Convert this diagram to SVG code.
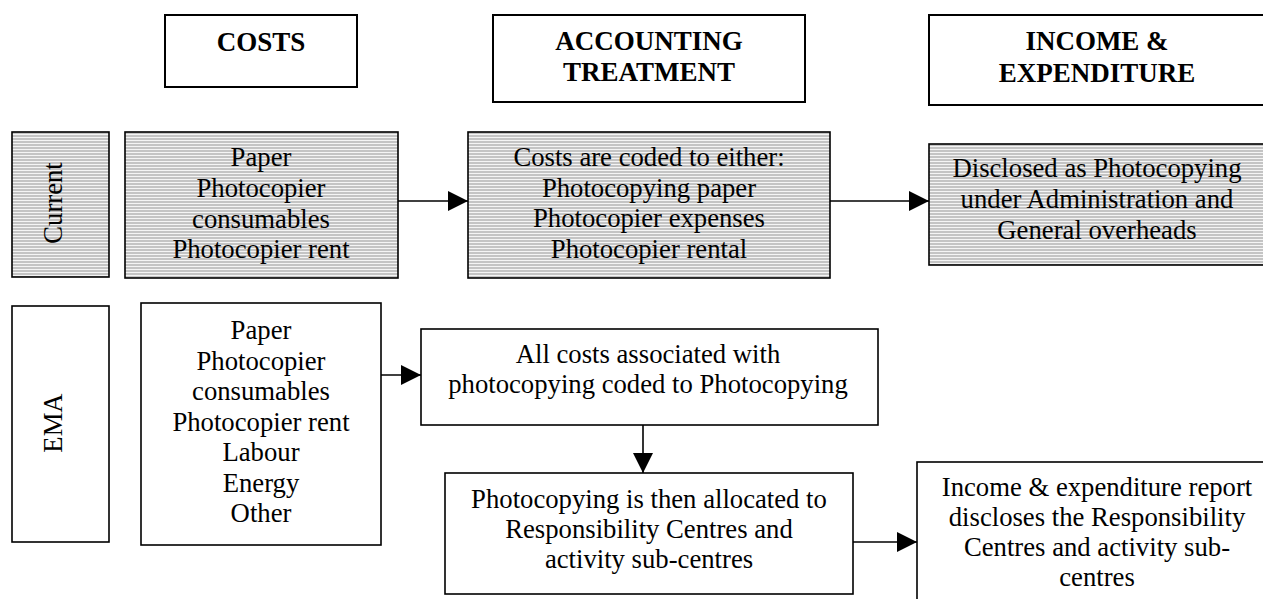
<svg xmlns="http://www.w3.org/2000/svg" width="1263" height="599" viewBox="0 0 1263 599">
<defs>
<pattern id="hatch" patternUnits="userSpaceOnUse" width="6" height="3">
<rect x="0" y="0" width="6" height="3" fill="#c4c4c4"/>
<rect x="0" y="2" width="6" height="1" fill="#f4f4f4"/>
</pattern>
<marker id="arr" markerUnits="userSpaceOnUse" markerWidth="22" markerHeight="22" refX="20" refY="10" orient="auto">
<path d="M0,0 L20,10 L0,20 Z" fill="#000"/>
</marker>
<style>
.box{fill:#fff;stroke:#000;stroke-width:1.6}
.hbox{fill:url(#hatch);stroke:#000;stroke-width:1.6}
.head{fill:#fff;stroke:#000;stroke-width:2}
text{font-family:"Liberation Serif","Times New Roman",serif;font-size:26.7px;fill:#000;text-anchor:middle}
.b{font-weight:bold;font-size:27px}
.conn{stroke:#000;stroke-width:1.6;fill:none;marker-end:url(#arr)}
</style>
</defs>

<g id="h-costs"><rect class="head" x="165" y="15" width="192" height="72"/><text class="b" x="261" y="51">COSTS</text></g>
<g id="h-acct"><rect class="head" x="493" y="15" width="312" height="87"/><text class="b" x="649" y="50">ACCOUNTING</text><text class="b" x="649" y="81">TREATMENT</text></g>
<g id="h-income"><rect class="head" x="929" y="15" width="345" height="90"/><text class="b" x="1097" y="50">INCOME &amp;</text><text class="b" x="1097" y="82">EXPENDITURE</text></g>

<g id="lbl-current"><rect class="hbox" x="12" y="132" width="97" height="145"/><text transform="translate(62,203) rotate(-90)">Current</text></g>
<g id="cur-costs"><rect class="hbox" x="125" y="132" width="273" height="146"/>
<text x="261" y="166">Paper</text><text x="261" y="197">Photocopier</text><text x="261" y="228">consumables</text><text x="261" y="258">Photocopier rent</text></g>
<g id="cur-acct"><rect class="hbox" x="468" y="132" width="362" height="146"/>
<text x="649" y="166">Costs are coded to either:</text><text x="649" y="197">Photocopying paper</text><text x="649" y="227">Photocopier expenses</text><text x="649" y="258">Photocopier rental</text></g>
<g id="cur-income"><rect class="hbox" x="929" y="144" width="345" height="121"/>
<text x="1097" y="177">Disclosed as Photocopying</text><text x="1097" y="208">under Administration and</text><text x="1097" y="239">General overheads</text></g>

<g id="lbl-ema"><rect class="box" x="12" y="306" width="97" height="236"/><text transform="translate(62,423) rotate(-90)">EMA</text></g>
<g id="ema-costs"><rect class="box" x="141" y="303" width="240" height="242"/>
<text x="261" y="339">Paper</text><text x="261" y="370">Photocopier</text><text x="261" y="400">consumables</text><text x="261" y="431">Photocopier rent</text><text x="261" y="461">Labour</text><text x="261" y="492">Energy</text><text x="261" y="522">Other</text></g>
<g id="ema-all"><rect class="box" x="421" y="329" width="457" height="96"/>
<text x="648" y="363">All costs associated with</text><text x="648" y="393">photocopying coded to Photocopying</text></g>
<g id="ema-alloc"><rect class="box" x="445" y="473" width="408" height="121"/>
<text x="649" y="508">Photocopying is then allocated to</text><text x="649" y="538">Responsibility Centres and</text><text x="649" y="568">activity sub-centres</text></g>
<g id="ema-report"><rect class="box" x="917" y="462" width="360" height="150"/>
<text x="1097" y="496">Income &amp; expenditure report</text><text x="1097" y="526">discloses the Responsibility</text><text x="1097" y="556">Centres and activity sub-</text><text x="1097" y="586">centres</text></g>

<g id="connectors">
<line class="conn" x1="398" y1="201" x2="468" y2="201"/>
<line class="conn" x1="830" y1="201" x2="929" y2="201"/>
<line class="conn" x1="381" y1="375" x2="421" y2="375"/>
<line class="conn" x1="643" y1="425" x2="643" y2="473"/>
<line class="conn" x1="853" y1="542" x2="917" y2="542"/>
</g>
</svg>
